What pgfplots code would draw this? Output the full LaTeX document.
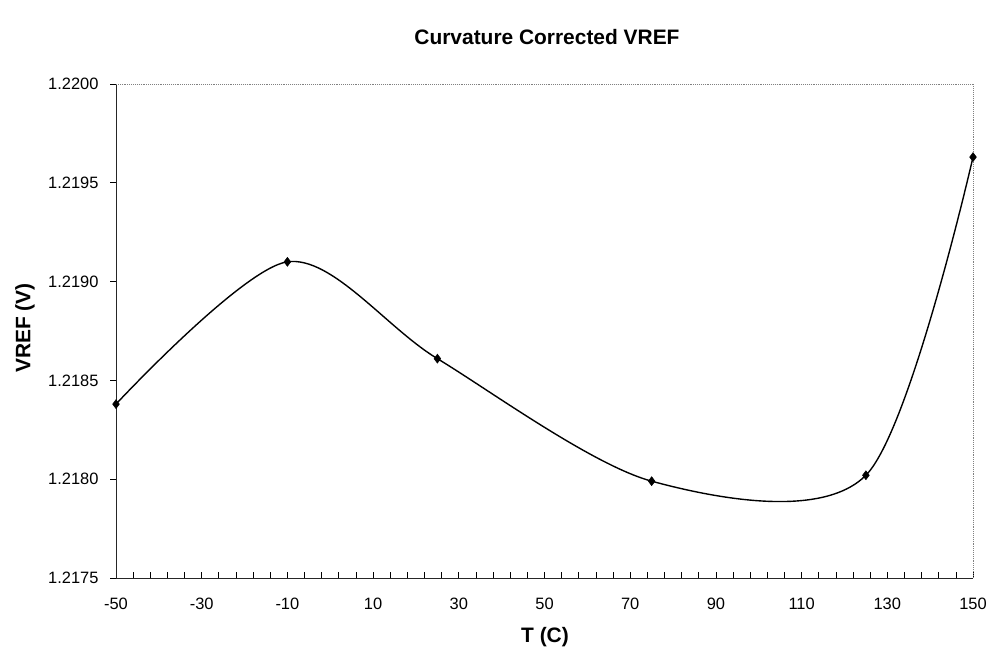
\documentclass[border=0pt]{standalone}
\usepackage{pgfplots}
\pgfplotsset{compat=1.18}
\usepackage{fontspec}
\setmainfont{Liberation Sans}

\begin{document}
\begin{tikzpicture}[x=1bp,y=1bp]
\path[use as bounding box] (0,0) rectangle (994,657);
\begin{axis}[
  at={(116bp,79bp)}, anchor=south west,
  scale only axis, width=857bp, height=494bp,
  xmin=-50, xmax=150, ymin=1.2175, ymax=1.2200,
  axis x line*=bottom, axis y line*=left,
  axis line style={black!85, line width=0.9pt, -},
  xtick={-50,-30,...,150},
  minor x tick num=4,
  ytick={1.2175,1.2180,1.2185,1.2190,1.2195,1.2200},
  scaled y ticks=false,
  tick align=outside,
  major tick length=6bp, minor tick length=6bp,
  y tick style={black, line width=0.7pt},
  x tick style={black, line width=0.7pt, yshift=6bp},
  yticklabel style={xshift=-8bp},
  xticklabel style={yshift=-11bp},
  ticklabel style={font=\fontsize{16.5}{18}\selectfont},
  /pgf/number format/assume math mode=true,
  yticklabel={\pgfmathprintnumber[fixed,fixed zerofill,precision=4]{\tick}},
  xticklabel={\pgfmathprintnumber[fixed]{\tick}},
  clip=false,
]
\draw[gray, densely dotted, line width=0.9pt]
  (rel axis cs:0,1) -- (rel axis cs:1,1) -- (rel axis cs:1,0);
\addplot[black, line width=1.4pt, smooth, mark=diamond*, mark size=4.5bp,
  mark options={fill=black, line width=0.5pt}] coordinates {
  (-50, 1.21838)
  (-10, 1.21910)
  (25, 1.21861)
  (75, 1.21799)
  (125, 1.21802)
  (150, 1.21963)
};
\end{axis}
\node[font=\bfseries\fontsize{21}{24}\selectfont] at (547,620) {Curvature Corrected VREF};
\node[font=\bfseries\fontsize{21}{24}\selectfont] at (545,20) {T (C)};
\node[font=\bfseries\fontsize{21}{24}\selectfont, rotate=90] at (25,329) {VREF (V)};
\end{tikzpicture}
\end{document}
